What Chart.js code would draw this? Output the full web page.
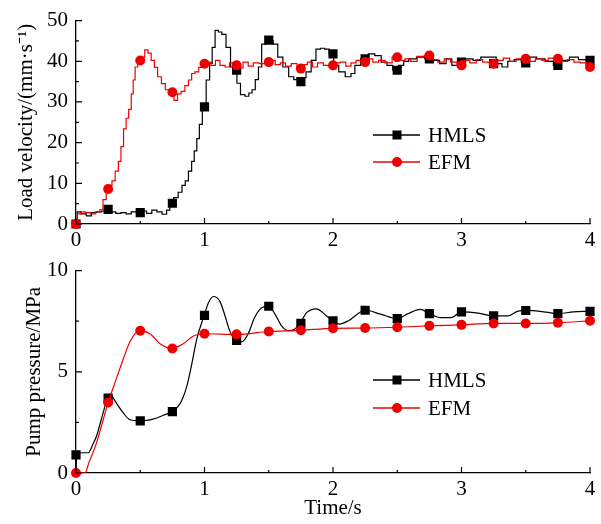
<!DOCTYPE html>
<html><head><meta charset="utf-8">
<script src="https://cdn.jsdelivr.net/npm/chart.js@4.4.0/dist/chart.umd.min.js"></script>
<style>
html,body{margin:0;padding:0;background:#fff;}
#wrap{position:relative;width:601px;height:524px;overflow:hidden;}
#c1{position:absolute;left:0;top:0;}
#c2{position:absolute;left:0;top:250px;}
</style></head><body>
<div id="wrap">
<canvas id="c1" width="601" height="250"></canvas>
<canvas id="c2" width="601" height="274"></canvas>
</div>
<script>
// ---------- DATA ----------
const markerTimes = [0,0.25,0.5,0.75,1,1.25,1.5,1.75,2,2.25,2.5,2.75,3,3.25,3.5,3.75,4];
const xTicks = [0,1,2,3,4];
const velTicks = [0,10,20,30,40,50];
const presTicks = [0,5,10];

// Load velocity (mm/s) - HMLS
const velHMLS_t = [0,0.02,0.06,0.1,0.14,0.18,0.22,0.25,0.29,0.33,0.37,0.41,0.45,0.49,0.53,0.57,0.61,0.65,0.69,0.72,0.74,0.78,0.81,0.84,0.86,0.89,0.91,0.93,0.95,0.97,0.996,1.03,1.05,1.07,1.095,1.12,1.15,1.185,1.22,1.245,1.26,1.30,1.33,1.36,1.38,1.41,1.43,1.46,1.49,1.52,1.55,1.59,1.63,1.68,1.71,1.74,1.77,1.81,1.85,1.885,1.92,1.95,1.99,2.02,2.07,2.12,2.16,2.18,2.25,2.30,2.35,2.40,2.44,2.49,2.53,2.57,2.61,2.69,2.74,2.80,2.86,2.90,2.95,3.0,3.06,3.12,3.18,3.25,3.29,3.34,3.38,3.44,3.49,3.55,3.62,3.68,3.75,3.80,3.88,3.94,4.0];
const velHMLS_v = [0,3,2.5,2,2.8,3,3.2,3.6,3,2.6,2.8,2.5,3,2.8,3.2,2.6,3.4,3,2.4,3.4,5.1,6.5,7.8,9.5,10.6,13,15.4,18,21,24.5,28.8,35.4,39.5,43.4,47.6,47.2,46.6,43.4,38.6,37.8,34.6,31.8,31.4,32.2,33,35.5,38.6,44.2,45.2,45,44.2,41,38.6,36.2,35.5,35,36,37.4,40.2,43,43.2,43,41.8,39,37.4,36.2,37,39,40.6,41.8,41.4,39.8,39,37.8,39,40,40.6,41,40.6,40.2,39.4,40.6,39,39.8,40.6,40.2,41,41,39.4,38.6,40,40.4,39.8,41,40.6,40,39,40.2,41,40.4,40.2];
const velHMLS_m = [0,3.6,2.8,5.1,28.8,37.8,45.2,35,41.8,40.6,37.8,40.6,39.8,39.4,39.6,39,40.2];

// Load velocity (mm/s) - EFM
const velEFM_t = [0,0.02,0.05,0.09,0.13,0.17,0.2,0.22,0.25,0.27,0.29,0.32,0.34,0.36,0.38,0.40,0.42,0.44,0.45,0.47,0.49,0.52,0.55,0.57,0.60,0.62,0.65,0.68,0.71,0.745,0.78,0.80,0.835,0.86,0.89,0.91,0.94,0.97,0.99,1.03,1.07,1.1,1.14,1.18,1.21,1.24,1.28,1.32,1.36,1.40,1.45,1.49,1.53,1.57,1.61,1.65,1.70,1.74,1.78,1.82,1.86,1.90,1.95,1.99,2.03,2.08,2.12,2.16,2.20,2.24,2.29,2.33,2.38,2.43,2.49,2.54,2.58,2.63,2.68,2.74,2.79,2.84,2.89,2.94,2.99,3.04,3.09,3.14,3.19,3.25,3.30,3.35,3.40,3.45,3.50,3.55,3.60,3.65,3.70,3.75,3.80,3.85,3.90,3.95,4.0];
const velEFM_v = [0,2.5,3,2.8,2.5,3,3.5,6,8.6,9.5,10.6,13,15.4,19,23.4,26,28.2,32,35.4,38.6,40.2,41,42.8,42,40.2,38.5,36.2,34.5,33,32.4,30.4,32,32.6,34,35.4,37,37.4,38.5,39.4,39.8,39,40.2,39,38.6,39.6,39,38.4,39.8,38.8,39.6,39.4,39.8,40.2,39.2,39.6,38.8,39.4,38.2,39.2,39.8,38.6,39.6,39,39,39.6,39.8,38.8,39.6,40.2,39.8,40.6,39.8,40.2,39.6,41,40.2,40.6,40,41.2,41.4,40.4,39.8,40.6,39.8,39,40.2,39.6,40.4,39.8,39.4,40.2,40.8,40,40.6,40.6,40,40.6,40.2,40.8,40.6,40,40.4,39.8,39.6,38.6];
const velEFM_m = [0,8.6,40.2,32.4,39.4,39,39.8,38.2,39,39.8,41,41.4,39,39.4,40.6,40.6,38.6];

// Pump pressure (MPa) - HMLS
const presHMLS_t = [0,0.005,0.05,0.096,0.13,0.16,0.21,0.24,0.265,0.29,0.317,0.37,0.42,0.49,0.55,0.60,0.68,0.745,0.81,0.86,0.90,0.94,0.998,1.03,1.07,1.12,1.16,1.20,1.243,1.29,1.34,1.39,1.445,1.497,1.55,1.60,1.65,1.70,1.743,1.795,1.87,1.95,2.0,2.05,2.12,2.25,2.37,2.5,2.58,2.68,2.75,2.84,2.92,3.0,3.13,3.25,3.36,3.44,3.5,3.66,3.75,3.87,4.0];
const presHMLS_v = [0,0.95,1.0,1.0,1.4,1.83,2.95,3.6,3.9,3.7,3.43,2.95,2.63,2.58,2.6,2.66,2.85,3.03,3.43,4.23,5.35,6.63,7.79,8.4,8.72,8.48,7.76,6.96,6.55,6.48,6.88,7.68,8.16,8.24,7.84,7.27,7.03,7.1,7.39,7.92,8.11,7.76,7.52,7.36,7.52,8.04,7.85,7.63,7.86,8.08,7.87,7.68,7.68,7.96,7.9,7.76,7.76,8.0,8.03,7.95,7.87,7.96,7.99];
const presHMLS_m = [0.9,3.7,2.58,3.03,7.79,6.55,8.24,7.39,7.52,8.04,7.63,7.87,7.96,7.76,8.03,7.87,7.99];

// Pump pressure (MPa) - EFM
const presEFM_t = [0,0.07,0.1,0.16,0.25,0.317,0.37,0.42,0.49,0.575,0.654,0.745,0.835,0.91,0.996,1.25,1.5,1.75,2.0,2.25,2.5,2.75,3.0,3.25,3.5,3.75,4.0];
const presEFM_v = [0,0,0.5,1.5,3.48,4.71,5.67,6.48,7.03,6.88,6.39,6.15,6.39,6.76,6.88,6.85,6.99,7.05,7.15,7.16,7.2,7.27,7.32,7.39,7.39,7.42,7.52];
const presEFM_m = [0,3.48,7.03,6.15,6.88,6.85,6.99,7.05,7.15,7.16,7.2,7.27,7.32,7.39,7.39,7.42,7.52];

const seriesNames = ['HMLS','EFM'];

// ---------- STYLE ----------
const FONT = '"Liberation Serif", "Times New Roman", serif';
const BLACK = '#000000';
const RED = '#ee0000';

function pts(t, v){ return t.map((x,i)=>({x:x, y:v[i]})); }

const inwardTicks = {
  id: 'inwardTicks',
  afterDraw(chart){
    const ctx = chart.ctx, a = chart.chartArea;
    const xs = chart.scales.x, ys = chart.scales.y;
    ctx.save();
    ctx.strokeStyle = '#000'; ctx.lineWidth = 1.2;
    const xv = xs.ticks.map(t=>t.value);
    const yv = ys.ticks.map(t=>t.value);
    ctx.beginPath();
    xv.forEach((v,i)=>{
      const p = xs.getPixelForValue(v);
      ctx.moveTo(p, a.bottom); ctx.lineTo(p, a.bottom-6);
      if (i < xv.length-1){
        const q = xs.getPixelForValue((v+xv[i+1])/2);
        ctx.moveTo(q, a.bottom); ctx.lineTo(q, a.bottom-3);
      }
    });
    yv.forEach((v,i)=>{
      const p = ys.getPixelForValue(v);
      ctx.moveTo(a.left, p); ctx.lineTo(a.left+6, p);
      if (i < yv.length-1){
        const q = ys.getPixelForValue((v+yv[i+1])/2);
        ctx.moveTo(a.left, q); ctx.lineTo(a.left+3, q);
      }
    });
    ctx.stroke();
    ctx.restore();
  }
};

const lineLegend = {
  id: 'lineLegend',
  afterDraw(chart, args, opts){
    const ctx = chart.ctx;
    ctx.save();
    opts.items.forEach((it, i)=>{
      const y = opts.y + i*opts.gap;
      ctx.strokeStyle = it.color; ctx.lineWidth = 1.3;
      ctx.beginPath(); ctx.moveTo(opts.x, y); ctx.lineTo(opts.x+47, y); ctx.stroke();
      ctx.fillStyle = it.color;
      const cx = opts.x + 24;
      if (it.style === 'rect'){ ctx.fillRect(cx-4.5, y-4.5, 9, 9); }
      else { ctx.beginPath(); ctx.arc(cx, y, 5, 0, Math.PI*2); ctx.fill(); }
      ctx.fillStyle = '#000';
      ctx.font = '21px ' + FONT;
      ctx.textBaseline = 'middle';
      ctx.fillText(it.label, opts.x + 55, y+1);
    });
    ctx.restore();
  }
};

function makeChart(id, cfg){
  const datasets = [
    {data: pts(markerTimes, cfg.efmM), showLine:false, pointStyle:'circle', pointRadius:5, pointBackgroundColor:RED, pointBorderColor:RED, pointBorderWidth:0, clip:6},
    {data: pts(cfg.efmT, cfg.efmV), borderColor:RED, borderWidth:1.2, pointRadius:0, stepped:cfg.stepped, tension:cfg.tension, cubicInterpolationMode: cfg.mono?'monotone':'default'},
    {data: pts(markerTimes, cfg.hmlsM), showLine:false, pointStyle:'rect', pointRadius:6.5, pointBackgroundColor:BLACK, pointBorderColor:BLACK, pointBorderWidth:0, clip:6},
    {data: pts(cfg.hmlsT, cfg.hmlsV), borderColor:BLACK, borderWidth:1.2, pointRadius:0, stepped:cfg.stepped, tension:cfg.tension, cubicInterpolationMode: cfg.mono?'monotone':'default'}
  ];
  return new Chart(document.getElementById(id), {
    type:'line',
    data:{datasets},
    options:{
      responsive:false, animation:false, devicePixelRatio:1,
      layout:{padding:{left:0, right:11, top:cfg.padTop, bottom:0}},
      plugins:{legend:{display:false}, tooltip:{enabled:false},
        lineLegend:{x:373, y:cfg.legY, gap:cfg.legGap, items:[
          {label:seriesNames[0], color:BLACK, style:'rect'},
          {label:seriesNames[1], color:RED, style:'circle'}]}},
      scales:{
        x:{type:'linear', min:0, max:4,
          afterBuildTicks: s=>{ s.ticks = xTicks.map(v=>({value:v})); },
          afterFit: s=>{ s.height = cfg.xH; },
          grid:{display:false, drawTicks:false},
          border:{display:true, color:'#000', width:1.3},
          ticks:{color:'#000', padding:cfg.xPad, font:{family:FONT, size:21}, maxRotation:0},
          title:{display:cfg.xTitle!=null, text:cfg.xTitle||'', color:'#000', font:{family:FONT, size:21}, padding:{top:0,bottom:cfg.xTitlePad}}
        },
        y:{type:'linear', min:0, max:cfg.yMax,
          afterBuildTicks: s=>{ s.ticks = cfg.yTicks.map(v=>({value:v})); },
          afterFit: s=>{ s.width = 76; },
          grid:{display:false, drawTicks:false},
          border:{display:true, color:'#000', width:1.3},
          ticks:{color:'#000', padding:8, font:{family:FONT, size:21}},
          title:{display:true, text:cfg.yTitle, color:'#000', font:{family:FONT, size:21}, padding:{top:cfg.yTitlePad, bottom:0}}
        }
      }
    },
    plugins:[inwardTicks, lineLegend]
  });
}

makeChart('c1', {
  efmT:velEFM_t, efmV:velEFM_v, efmM:velEFM_m,
  hmlsT:velHMLS_t, hmlsV:velHMLS_v, hmlsM:velHMLS_m,
  stepped:'middle', tension:0, mono:false, padTop:16, xH:26, xPad:4, xTitle:null, xTitlePad:0,
  yMax:50, yTicks:velTicks, yTitle:'Load velocity/(mm·s⁻¹)', yTitlePad:14,
  legY:135, legGap:27
});
makeChart('c2', {
  efmT:presEFM_t, efmV:presEFM_v, efmM:presEFM_m,
  hmlsT:presHMLS_t, hmlsV:presHMLS_v, hmlsM:presHMLS_m,
  stepped:false, tension:0.4, mono:true, padTop:15, xH:51, xPad:4, xTitle:'Time/s', xTitlePad:3,
  yMax:10, yTicks:presTicks, yTitle:'Pump pressure/MPa', yTitlePad:22,
  legY:130, legGap:28
});
</script>
</body></html>
